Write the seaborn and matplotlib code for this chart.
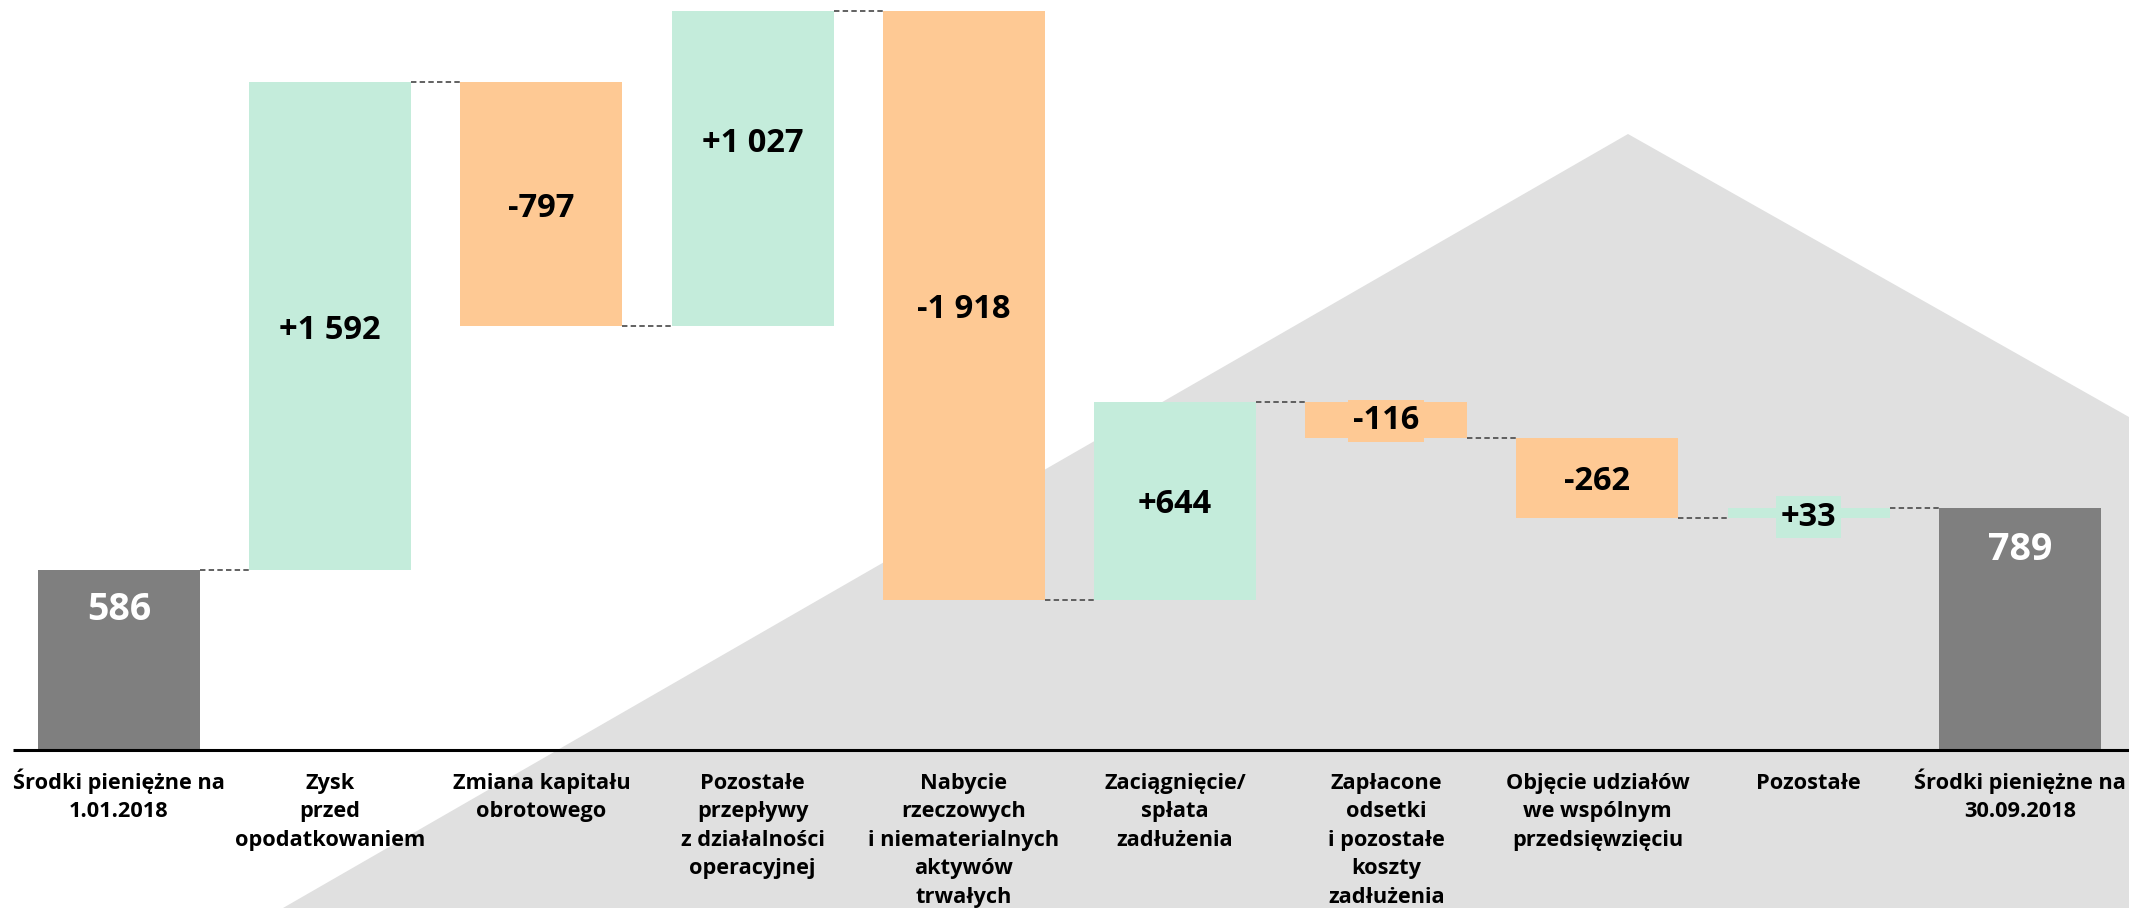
import matplotlib
matplotlib.use("Agg")
import matplotlib.pyplot as plt
from matplotlib.patches import Polygon
import seaborn as sns
import numpy as np
import pandas as pd

# ---- data ----
categories = [
    "Środki pieniężne na\n1.01.2018",
    "Zysk\nprzed\nopodatkowaniem",
    "Zmiana kapitału\nobrotowego",
    "Pozostałe\nprzepływy\nz działalności\noperacyjnej",
    "Nabycie\nrzeczowych\ni niematerialnych\naktywów\ntrwałych",
    "Zaciągnięcie/\nspłata\nzadłużenia",
    "Zapłacone\nodsetki\ni pozostałe\nkoszty\nzadłużenia",
    "Objęcie udziałów\nwe wspólnym\nprzedsięwzięciu",
    "Pozostałe",
    "Środki pieniężne na\n30.09.2018",
]
start_value = 586
changes = [1592, -797, 1027, -1918, 644, -116, -262, 33]
end_value = 789
value_labels = ["586", "+1 592", "-797", "+1 027", "-1 918", "+644", "-116", "-262", "+33", "789"]

# ---- derived waterfall geometry ----
bottoms, heights, kinds = [0], [start_value], ["total"]
level = start_value
levels = [level]
for c in changes:
    new = level + c
    bottoms.append(min(level, new))
    heights.append(abs(c))
    kinds.append("up" if c > 0 else "down")
    level = new
    levels.append(level)
bottoms.append(0)
heights.append(end_value)
kinds.append("total")
levels.append(end_value)

col = {"total": "#7f7f7f", "up": "#c4ecdb", "down": "#fec994"}
colors = [col[k] for k in kinds]

sns.set_theme(style="white")
plt.rcParams["font.family"] = ["Open Sans", "DejaVu Sans"]

W, H = 2129, 908
fig = plt.figure(figsize=(W / 100, H / 100), dpi=100)
fig.patch.set_facecolor("white")

# background house shape
poly = Polygon([(283 / W, 0), (1628 / W, 1 - 134 / H), (1, 1 - 417 / H), (1, 0)],
               closed=True, transform=fig.transFigure, facecolor="#e0e0e0",
               edgecolor="none", zorder=-5)
fig.add_artist(poly)

axis_y = 750
ax = fig.add_axes([0, (H - axis_y) / H, 1, axis_y / H])
ax.set_zorder(2)
ax.set_facecolor("none")
ax.patch.set_alpha(0)

pos = list(range(len(categories)))
df = pd.DataFrame({"pos": [str(p) for p in pos], "height": heights})
bar_w = 162 / 211.2
sns.barplot(data=df, x="pos", y="height", hue="pos", palette=colors,
            width=bar_w, legend=False, ax=ax, saturation=1, edgecolor="none",
            linewidth=0)
for patch, b in zip(ax.patches, bottoms):
    patch.set_y(b)

# connectors
for i in range(len(categories) - 1):
    lv = levels[i]
    ax.plot([i + bar_w / 2, i + 1 - bar_w / 2], [lv, lv], color="#555555",
            lw=1.3, ls=(0, (3, 1.8)), zorder=3)

# value labels
nudges = [-130, 0, 0, 97, 0, 0, 10, 0, 0, -137]
for i, (lab, k) in enumerate(zip(value_labels, kinds)):
    if k == "total":
        y = heights[i] + nudges[i]
        ax.text(i, y, lab, ha="center", va="center", fontsize=27,
                fontweight="bold", color="white", zorder=5)
    else:
        y = bottoms[i] + heights[i] / 2 + nudges[i]
        ax.text(i, y, lab, ha="center", va="center_baseline", fontsize=23.5,
                fontweight="bold", color="black", zorder=5,
                bbox=dict(boxstyle="square,pad=0.15", fc=colors[i], ec="none"))

# axis
xl = -119 / 211.2
xr = (W - 119) / 211.2
ax.set_xlim(xl, xr)
ax.set_ylim(0, axis_y / 0.3067)
ax.plot([-0.5, xr], [0, 0], color="black", lw=2.2, clip_on=False, zorder=6,
        solid_capstyle="butt")
sns.despine(ax=ax, left=True, bottom=True)
ax.set_yticks([])
ax.set_xticks(pos)
ax.set_xticklabels([""] * len(pos))
ax.tick_params(axis="x", length=0)
ax.set_xlabel("")
ax.set_ylabel("")

# category labels, one text per line for exact line spacing
first_baseline_px = 789
line_step_px = 28.4
trans = ax.get_xaxis_transform()
for i, cat in enumerate(categories):
    for k, line in enumerate(cat.split("\n")):
        ypx = first_baseline_px + k * line_step_px
        ax.text(i, (axis_y - ypx) / axis_y, line, transform=trans,
                ha="center", va="baseline", fontsize=15.7, fontweight="bold",
                color="black", clip_on=False)

fig.savefig("out.png", dpi=100, facecolor="white")
